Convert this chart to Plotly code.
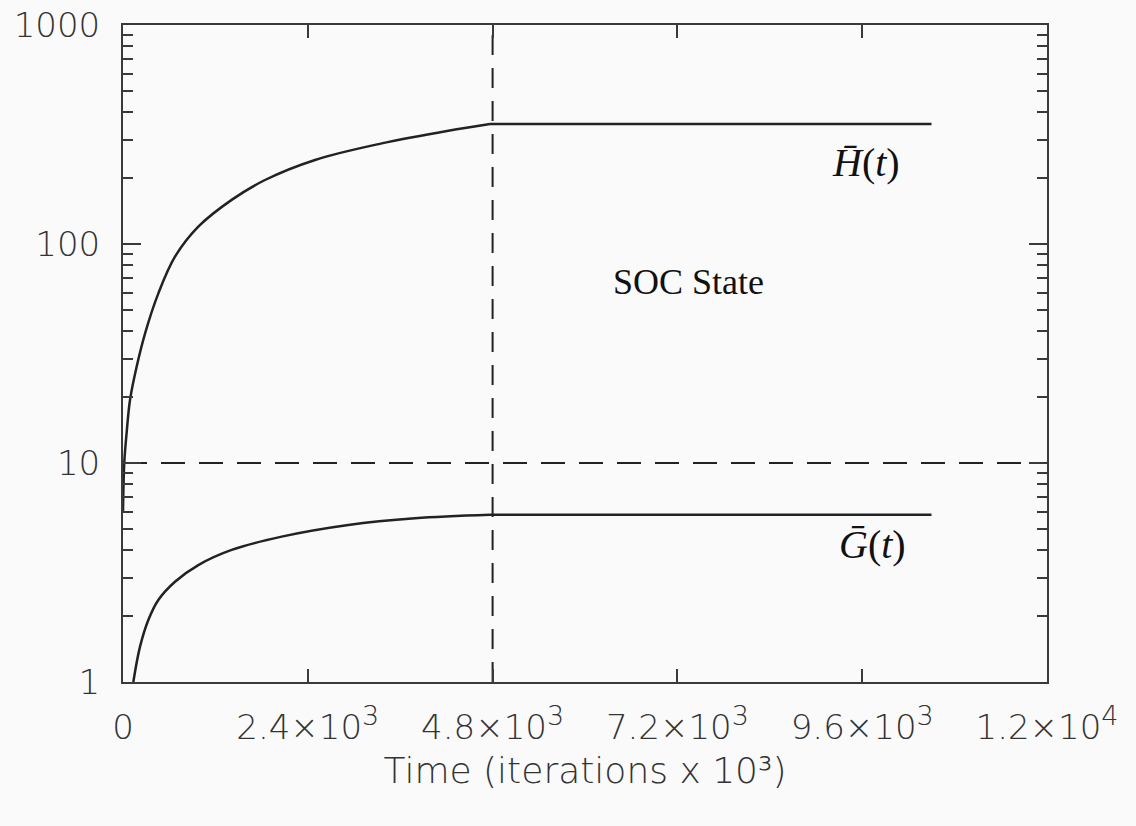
import plotly.graph_objects as go

# Mean height H(t) and mean gradient G(t) versus iteration count: rising phase
t_h = [0, 17, 47, 91, 177, 286, 459, 675, 978, 1411, 1844, 2494, 3360, 4225, 4766]
h_bar = [6.0, 10.1, 13.7, 19.4, 27.5, 39.0, 59.5, 87.5, 120, 159, 196, 242, 288, 329, 353]

t_g = [134, 221, 329, 459, 675, 978, 1411, 2061, 2926, 3792, 4766]
g_bar = [1.0, 1.45, 1.92, 2.37, 2.87, 3.42, 4.01, 4.61, 5.21, 5.59, 5.8]

# plateau reached in the SOC state
t_plateau = [4766, 10500]
h_plateau = [353, 353]
g_plateau = [5.8, 5.8]

# Reference markers: onset of the SOC state and the threshold level
soc_onset = 4800
threshold = 10

x_ticks = [0, 2400, 4800, 7200, 9600, 12000]
sup = "<sup><span style='font-size:27px'>{}</span></sup>"
x_labels = ["0", "2.4×10" + sup.format(3), "4.8×10" + sup.format(3), "7.2×10" + sup.format(3),
            "9.6×10" + sup.format(3), "1.2×10" + sup.format(4)]
y_ticks = [1, 10, 100, 1000]
y_labels = ["1", "10", "100", "1000"]

x_range = [0, 12000]
y_range = [1, 1000]

ink = "#222222"
frame = "#3a3a3a"
sans = dict(family="DejaVu Sans", size=34, color="#333333", weight=200)

fig = go.Figure()

for tx, vals in ((t_h, h_bar), (t_g, g_bar)):
    fig.add_trace(go.Scatter(x=tx, y=vals, mode="lines",
                             line=dict(color=ink, width=2.5, shape="spline", smoothing=1.0),
                             showlegend=False))
for vals in (h_plateau, g_plateau):
    fig.add_trace(go.Scatter(x=t_plateau, y=vals, mode="lines",
                             line=dict(color=ink, width=2.5), showlegend=False))

# dashed guide lines
fig.add_trace(go.Scatter(x=x_range, y=[threshold, threshold], mode="lines",
                         line=dict(color=ink, width=2, dash="24px,14px"),
                         showlegend=False))
fig.add_trace(go.Scatter(x=[soc_onset, soc_onset], y=y_range, mode="lines",
                         line=dict(color=ink, width=2, dash="20px,13px"),
                         showlegend=False))

serif = dict(family="Liberation Serif", color="#111111")
fig.add_annotation(x=7340, y=1.826, xref="x", yref="y", text="SOC State",
                   showarrow=False, font=dict(size=36, **serif))
fig.add_annotation(x=9650, y=2.37, xref="x", yref="y",
                   text="<i>H̄</i>(<i>t</i>)", showarrow=False,
                   font=dict(size=40, **serif))
fig.add_annotation(x=9740, y=0.626, xref="x", yref="y",
                   text="<i>Ḡ</i>(<i>t</i>)", showarrow=False,
                   font=dict(size=40, **serif))

fig.update_xaxes(
    range=x_range, tickmode="array", tickvals=x_ticks, ticktext=x_labels,
    ticks="inside", ticklen=13, tickwidth=2, tickcolor=frame,
    showline=True, linecolor=frame, linewidth=2, mirror="ticks",
    showgrid=False, zeroline=False, tickfont=sans, ticklabelstandoff=14,
    automargin=False,
    title=dict(text="Time (iterations x 10³)", font=dict(sans, size=36), standoff=12),
)
fig.update_yaxes(
    type="log", range=[0, 3], tickmode="array", tickvals=y_ticks, ticktext=y_labels,
    ticks="inside", ticklen=18, tickwidth=2, tickcolor=frame,
    showline=True, linecolor=frame, linewidth=2, mirror="ticks",
    showgrid=False, zeroline=False, tickfont=sans, ticklabelstandoff=14,
    automargin=False,
    minor=dict(ticks="inside", ticklen=10, tickwidth=2, tickcolor=frame,
               dtick="D1", showgrid=False),
)

fig.update_layout(
    width=1136, height=826,
    margin=dict(l=123, r=89, t=25, b=144),
    paper_bgcolor="#fafafa", plot_bgcolor="#fafafa",
    showlegend=False,
)

fig.write_html("out.html")
